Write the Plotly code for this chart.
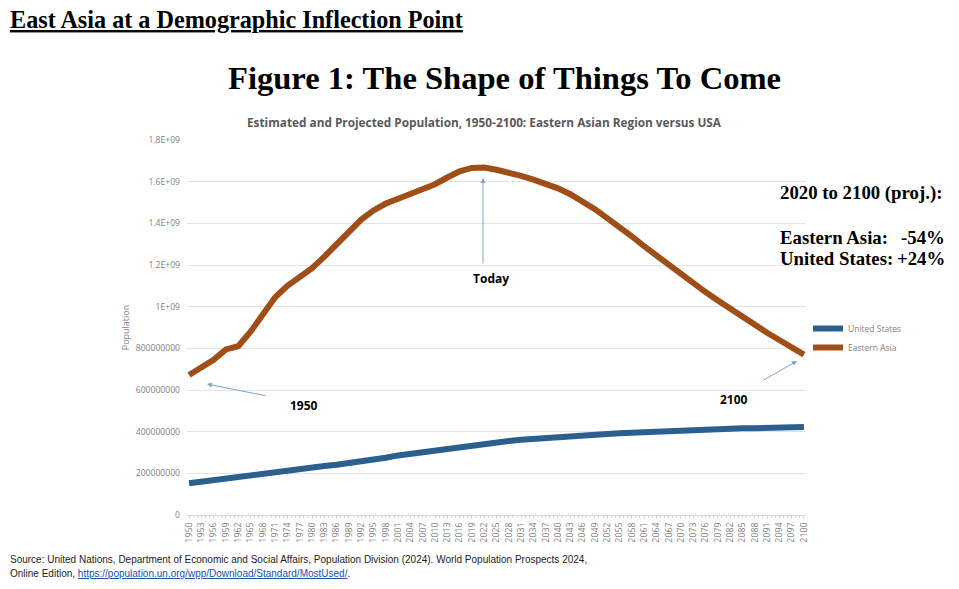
import plotly.graph_objects as go

# ---------------- data ----------------
years = list(range(1950, 2101, 3))
east_asia = [672, 705, 745, 795, 810, 880, 965, 1045, 1100, 1145,
             1185, 1240, 1300, 1360, 1418, 1462, 1495, 1518, 1540, 1562,
             1588, 1620, 1650, 1666, 1668, 1657, 1644, 1628, 1610, 1592,
             1568, 1540, 1506, 1468, 1425, 1385, 1338, 1290, 1245, 1200,
             1155, 1112, 1070, 1030, 990, 950, 912, 875, 840, 805, 770]
united_states = [152, 160, 168, 177, 186, 194, 201, 208, 214, 220,
                 228, 235, 241, 248, 257, 266, 275, 286, 294, 302,
                 311, 319, 328, 337, 343, 349, 355, 361, 366, 370,
                 375, 379, 383, 386, 389, 392, 395, 398, 401, 404,
                 406, 408, 410, 412, 414, 416, 417, 419, 420, 422, 423]
east_asia = [v * 1e6 for v in east_asia]
united_states = [v * 1e6 for v in united_states]

x_ticktext = [str(y) for y in years]
y_tickvals = [0, 2e8, 4e8, 6e8, 8e8, 1e9, 1.2e9, 1.4e9, 1.6e9, 1.8e9]
y_ticktext = ["0", "200000000", "400000000", "600000000", "800000000",
              "1E+09", "1.2E+09", "1.4E+09", "1.6E+09", "1.8E+09"]

# ---------------- layout helpers ----------------
FW, FH = 959, 589
L, R, T, B = 187, 153, 140, 74
W = FW - L - R
H = FH - T - B


def px(x):
    return (x - L) / W


def py(y):
    return (FH - B - y) / H


BLUE = "#2B5F8E"
BROWN = "#A04E18"
GRAY = "#7F7F7F"
ARROW = "#7FA6C9"

fig = go.Figure()
fig.add_trace(go.Scatter(x=years, y=united_states, mode="lines", name="United States",
                         line=dict(color=BLUE, width=6)))
fig.add_trace(go.Scatter(x=years, y=east_asia, mode="lines", name="Eastern Asia",
                         line=dict(color=BROWN, width=6)))

ann = []
serif = "Liberation Serif"
# top heading
ann.append(dict(x=px(8), y=py(19), xref="paper", yref="paper", xanchor="left", yanchor="middle",
                text="<b><u>East Asia at a Demographic Inflection Point</u></b>", showarrow=False,
                font=dict(family=serif, size=24.2, color="black")))
# figure title
ann.append(dict(x=px(504), y=py(78), xref="paper", yref="paper", xanchor="center", yanchor="middle",
                text="<b>Figure 1: The Shape of Things To Come</b>", showarrow=False,
                font=dict(family=serif, size=32.6, color="black")))
# chart title
ann.append(dict(x=px(484), y=py(122), xref="paper", yref="paper", xanchor="center", yanchor="middle",
                text="<b>Estimated and Projected Population, 1950-2100: Eastern Asian Region versus USA</b>",
                showarrow=False, font=dict(family="Open Sans", size=11.8, color="#595959")))
# right side block
RS = 18.8
ann.append(dict(x=px(778), y=py(193), xref="paper", yref="paper", xanchor="left", yanchor="middle",
                text="<b>2020 to 2100 (proj.):</b>", showarrow=False,
                font=dict(family=serif, size=RS, color="black")))
ann.append(dict(x=px(778), y=py(237), xref="paper", yref="paper", xanchor="left", yanchor="middle",
                text="<b>Eastern Asia:</b>", showarrow=False,
                font=dict(family=serif, size=RS, color="black")))
ann.append(dict(x=px(947), y=py(237), xref="paper", yref="paper", xanchor="right", yanchor="middle",
                text="<b>-54%</b>", showarrow=False,
                font=dict(family=serif, size=RS, color="black")))
ann.append(dict(x=px(778), y=py(258), xref="paper", yref="paper", xanchor="left", yanchor="middle",
                text="<b>United States:</b>", showarrow=False,
                font=dict(family=serif, size=RS, color="black")))
ann.append(dict(x=px(947), y=py(258), xref="paper", yref="paper", xanchor="right", yanchor="middle",
                text="<b>+24%</b>", showarrow=False,
                font=dict(family=serif, size=RS, color="black")))
# callout labels
for txt, cx, cy in [("Today", 491, 278), ("1950", 304, 405), ("2100", 734, 399)]:
    ann.append(dict(x=px(cx), y=py(cy), xref="paper", yref="paper", xanchor="center", yanchor="middle",
                    text="<b>" + txt + "</b>", showarrow=False,
                    font=dict(family="Open Sans", size=12, color="black")))
# arrows (head position, tail offset in pixels)
for hx, hy, ax, ay in [(483, 178, 0, 87), (207, 384, 60, 12), (797, 361, -35, 20)]:
    ann.append(dict(x=px(hx), y=py(hy), xref="paper", yref="paper", text="", showarrow=True,
                    ax=ax, ay=ay, arrowhead=2, arrowsize=1, arrowwidth=1, arrowcolor=ARROW))
# source
ann.append(dict(x=px(8), y=py(559), xref="paper", yref="paper", xanchor="left", yanchor="middle",
                text="Source: United Nations, Department of Economic and Social Affairs, Population Division (2024). World Population Prospects 2024,",
                showarrow=False, font=dict(family="Liberation Sans", size=10, color="#222222")))
ann.append(dict(x=px(8), y=py(573), xref="paper", yref="paper", xanchor="left", yanchor="middle",
                text="Online Edition, <span style='color:#2050A8'><u>https://population.un.org/wpp/Download/Standard/MostUsed/</u></span>.",
                showarrow=False, font=dict(family="Liberation Sans", size=10, color="#222222")))

fig.update_layout(
    width=FW, height=FH,
    margin=dict(l=L, r=R, t=T, b=B, pad=0),
    paper_bgcolor="white", plot_bgcolor="white",
    annotations=ann,
    showlegend=True,
    legend=dict(x=px(808), y=py(314), xanchor="left", yanchor="top",
                font=dict(family="Open Sans", size=8.5, color=GRAY),
                itemwidth=30, bgcolor="rgba(0,0,0,0)", tracegroupgap=0),
    xaxis=dict(range=[1949.5, 2100.5], tickvals=years, ticktext=x_ticktext, tickangle=-90,
               tickfont=dict(family="Open Sans", size=8.8, color=GRAY),
               showgrid=False, zeroline=False, showline=True, linecolor="#D9D9D9", linewidth=1,
               ticks="outside", ticklen=3, tickcolor="#D9D9D9",
               minor=dict(dtick=1, tick0=1950, ticks="outside", ticklen=2, tickcolor="#D9D9D9")),
    yaxis=dict(range=[0, 1.8e9], tickvals=y_tickvals, ticktext=y_ticktext,
               tickfont=dict(family="Open Sans", size=8.6, color=GRAY),
               ticklabelstandoff=6,
               showgrid=True, gridcolor="#E3E3E3", gridwidth=1, zeroline=False, showline=False,
               ticks="", title=dict(text="Population", standoff=4,
                                    font=dict(family="Open Sans", size=9, color=GRAY))),
)

fig.write_html("out.html")
